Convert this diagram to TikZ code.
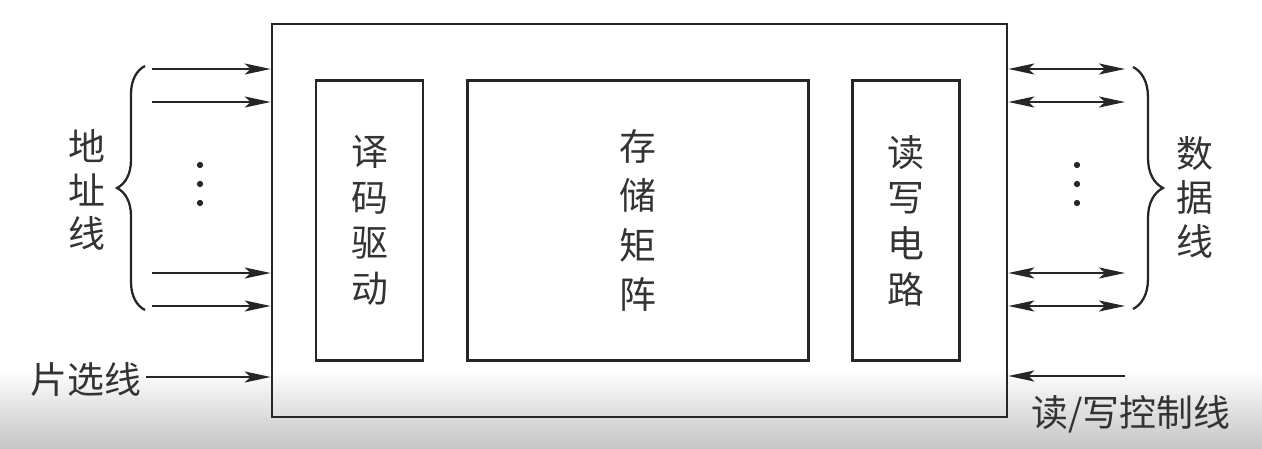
\documentclass[tikz,border=0pt]{standalone}
\usepackage{fontspec}
\newfontfamily\cjk{Noto Sans CJK SC}
\usetikzlibrary{arrows.meta, positioning, decorations.pathreplacing}

\begin{document}
\begin{tikzpicture}[
    x=0.02cm, y=-0.02cm,
    node distance=0.83cm,
    sig/.style={-{Stealth[length=0.52cm, width=0.22cm, inset=0.12cm]}, line width=1.4pt, black!85},
    bus/.style={{Stealth[length=0.52cm, width=0.22cm, inset=0.12cm]}-{Stealth[length=0.52cm, width=0.22cm, inset=0.12cm]}, line width=1.4pt, black!85},
    chip/.style={rectangle, draw=black!85, line width=1.6pt, minimum width=14.7cm, minimum height=7.86cm},
    unit/.style={rectangle, draw=black!85, line width=1.6pt, minimum width=2.14cm, minimum height=5.6cm, font=\cjk\fontsize{21}{26}\selectfont, align=center, text=black!80},
    lbl/.style={font=\cjk\fontsize{21}{25}\selectfont, text=black!80, align=center, inner sep=0.08cm},
    grp/.style={decorate, decoration={brace, amplitude=0.56cm}, line width=1.3pt, black!85}
]
    \useasboundingbox (0,0) rectangle (1262,449);
    \shade[top color=white, bottom color=gray!46] (0,370) rectangle (1262,449);

    % memory chip
    \node[chip] (chip) at (639.5,220.5) {};
    \node[unit, anchor=west] (dec) at ([xshift=0.88cm]chip.west) {译\\码\\驱\\动};
    \node[unit, minimum width=6.82cm, right=of dec, font=\cjk\fontsize{21}{28}\selectfont] (arr) {存\\储\\矩\\阵};
    \node[unit, right=of arr] (rw) {读\\写\\电\\路};

    % address lines
    \foreach \y [count=\i] in {69,102,273,306} {
        \coordinate (addr\i) at (152,\y);
        \draw[sig] (addr\i) -- (addr\i -| chip.west);
    }
    % data lines
    \foreach \y [count=\i] in {69,102,273,306} {
        \coordinate (data\i) at (1125,\y);
        \draw[bus] (data\i -| chip.east) -- (data\i);
    }
    \foreach \y in {165,184,203} {
        \fill[black!85] (200,\y) circle (1.8pt);
        \fill[black!85] (1077,\y) circle (1.8pt);
    }

    % braces
    \coordinate (abot) at (145,310);
    \coordinate (atop) at (145,66);
    \draw[grp] (abot) -- (atop);
    \node[lbl] (addrlbl) at (87,190) {地\\址\\线};

    \coordinate (dtop) at (1133,67);
    \coordinate (dbot) at (1133,309);
    \draw[grp, decoration={amplitude=0.6cm}] (dtop) -- (dbot);
    \node[lbl] (datalbl) at (1195,197) {数\\据\\线};

    % chip select and read/write control
    \node[lbl, anchor=east] (cs) at (146,379) {片选线};
    \draw[sig] (cs.east |- 0,377) -- (chip.west |- 0,377);
    \coordinate (rwin) at (1125,376);
    \draw[sig] (rwin) -- (rwin -| chip.east);
    \node[lbl] (rwlbl) at (1131,414) {读/写控制线};
\end{tikzpicture}
\end{document}
